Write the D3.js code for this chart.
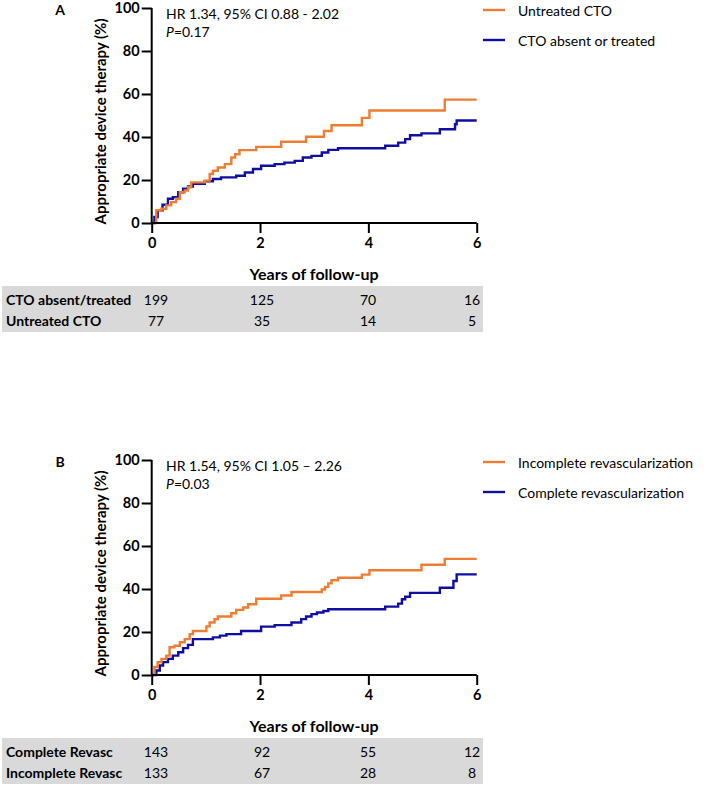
<!DOCTYPE html>
<html><head><meta charset="utf-8">
<script src="https://cdn.jsdelivr.net/npm/d3@7"></script>
<style>body{margin:0;background:#fff}svg{display:block}text{font-family:Lato,"Open Sans",sans-serif}</style>
</head><body><svg id="c" width="709" height="788"></svg>
<script>
// ---- data ----
const xTicks = [0, 2, 4, 6];
const yTicks = [0, 20, 40, 60, 80, 100];

const aUntreatedT = [0,0.085,0.18,0.27,0.36,0.45,0.52,0.61,0.67,0.73,0.98,1.07,1.13,1.22,1.35,1.47,1.54,1.62,1.93,2.39,2.85,3.18,3.32,3.88,4.02,5.41,6.0];
const aUntreatedV = [0,5.9,6.6,8.2,9.7,11.3,14.3,15.1,16.6,18.9,19.7,22.8,24.3,25.8,27.4,30.5,32,33.9,35.4,37.8,40.1,42.8,45.5,48.9,52.3,57.4,57.4];
const aTreatedT = [0,0.05,0.11,0.2,0.30,0.39,0.49,0.58,0.67,0.76,0.98,1.13,1.28,1.56,1.72,1.87,2.02,2.27,2.45,2.64,2.79,2.95,3.14,3.26,3.44,4.31,4.55,4.68,4.77,4.98,5.32,5.60,5.63,6.0];
const aTreatedV = [0,2.8,5.9,8.5,11.3,12,14.3,15.9,17,18.2,19.4,20.5,21.2,22,23.5,25.1,26.6,27.4,28.1,28.9,30.5,31.2,32.8,34,34.8,35.9,37.4,39,40.8,41.7,43.6,45.9,47.7,47.7];

const bIncompleteT = [0,0.05,0.11,0.18,0.27,0.33,0.42,0.52,0.61,0.70,0.76,1.01,1.07,1.16,1.22,1.47,1.56,1.69,1.78,1.93,2.39,2.58,3.14,3.2,3.26,3.32,3.44,3.88,4.02,4.98,5.41,6.0];
const bIncompleteV = [0,3.7,6.0,7.5,9.0,12.9,13.6,15.2,16.7,19,20.5,22.6,24.4,26,27.2,28.7,30.3,31.4,32.9,35.5,37,38.6,39.8,41,42.6,44.1,45.2,46.7,48.7,51.3,54,54];
const bCompleteT = [0,0.085,0.15,0.21,0.30,0.39,0.49,0.58,0.67,0.76,1.13,1.26,1.38,1.65,2.02,2.27,2.58,2.76,2.85,2.95,3.05,3.17,3.26,4.31,4.55,4.62,4.68,4.77,5.32,5.57,5.63,6.0];
const bCompleteV = [0,2.1,4.4,6.0,7.5,9.0,10.6,12.5,14,16.7,17.5,18.3,19,20.5,22.5,23.2,24.4,26,27.2,28.3,29.1,29.8,30.6,31.8,33.2,35.2,36.4,38.2,40.6,43.7,46.8,46.8];

const panels = [
  {letter:"A", hr:"HR 1.34, 95% CI 0.88 - 2.02", p:"=0.17",
   series:[{name:"Untreated CTO", t:aUntreatedT, v:aUntreatedV, color:"#ED7D31"},
           {name:"CTO absent or treated", t:aTreatedT, v:aTreatedV, color:"#0E0EA0"}],
   rowLabels:["CTO absent/treated","Untreated CTO"],
   rows:[[199,125,70,16],[77,35,14,5]]},
  {letter:"B", hr:"HR 1.54, 95% CI 1.05 \u2013 2.26", p:"=0.03",
   series:[{name:"Incomplete revascularization", t:bIncompleteT, v:bIncompleteV, color:"#ED7D31"},
           {name:"Complete revascularization", t:bCompleteT, v:bCompleteV, color:"#0E0EA0"}],
   rowLabels:["Complete Revasc","Incomplete Revasc"],
   rows:[[143,92,55,12],[133,67,28,8]]}
];

// ---- layout ----
const svg = d3.select("#c");
const x = d3.scaleLinear().domain([0,6]).range([151.7,476.7]);
const tops = [8, 460];
const plotH = 215;
const colX = [156, 262, 368, 472];

panels.forEach((P, i) => {
  const top = tops[i], bottom = top + plotH;
  const y = d3.scaleLinear().domain([0,100]).range([bottom, top]);
  const g = svg.append("g");

  g.append("text").attr("x",60).attr("y",top+1).attr("text-anchor","middle")
    .attr("dominant-baseline","central").attr("font-size",14).attr("font-weight","bold").text(P.letter);

  // curves
  const line = d3.line().x(d=>x(d[0])).y(d=>y(d[1])).curve(d3.curveStepAfter);
  P.series.slice().reverse().forEach(s => {
    g.append("path").datum(s.t.map((t,k)=>[t,s.v[k]]))
      .attr("d",line).attr("fill","none").attr("stroke",s.color).attr("stroke-width",2.4);
  });

  // axes
  const ya = d3.axisLeft(y).tickValues(yTicks).tickFormat(d3.format("d")).tickSize(10).tickPadding(2);
  const yg = g.append("g").attr("transform",`translate(${x(0)},0)`).call(ya);
  const xa = d3.axisBottom(x).tickValues(xTicks).tickFormat(d3.format("d")).tickSize(10).tickPadding(5);
  const xg = g.append("g").attr("transform",`translate(0,${bottom})`).call(xa);
  [yg,xg].forEach(a=>{
    a.select(".domain").attr("stroke","#000").attr("stroke-width",2).attr("d", a===yg ? `M0,${bottom}V${top}` : `M${x(0)},0H${x(6)}`);
    a.selectAll(".tick line").attr("stroke","#000").attr("stroke-width",2);
    a.selectAll(".tick text").attr("font-family","Lato").attr("font-size",14.5).attr("font-weight","bold").attr("fill","#000");
  });

  g.append("text").attr("transform",`translate(100,${(top+bottom)/2+6}) rotate(-90)`)
    .attr("text-anchor","middle").attr("dominant-baseline","central")
    .attr("font-size",15).attr("font-weight","bold").text("Appropriate device therapy (%)");
  g.append("text").attr("x",314).attr("y",bottom+50).attr("text-anchor","middle")
    .attr("dominant-baseline","central").attr("font-size",16).attr("font-weight","bold").text("Years of follow-up");

  // annotation
  g.append("text").attr("x",166).attr("y",top+5).attr("dominant-baseline","central")
    .attr("font-size",14).text(P.hr);
  const pt = g.append("text").attr("x",166).attr("y",top+23).attr("dominant-baseline","central").attr("font-size",14);
  pt.append("tspan").attr("font-style","italic").text("P");
  pt.append("tspan").text(P.p);

  // legend
  P.series.forEach((s,k)=>{
    const ly = top + 2 + k*30;
    g.append("line").attr("x1",483).attr("x2",505).attr("y1",ly).attr("y2",ly)
      .attr("stroke",s.color).attr("stroke-width",2.4);
    g.append("text").attr("x",518).attr("y",ly).attr("dominant-baseline","central")
      .attr("font-size",14).text(s.name);
  });

  // risk table
  const tTop = bottom + 63;
  g.append("rect").attr("x",2).attr("y",tTop).attr("width",481).attr("height",46).attr("fill","#d9d9d9");
  P.rowLabels.forEach((lab,r)=>{
    const ry = tTop + 13.5 + r*20.7;
    g.append("text").attr("x",6).attr("y",ry).attr("dominant-baseline","central")
      .attr("font-size",14).attr("font-weight","bold").text(lab);
    P.rows[r].forEach((n,c)=>{
      g.append("text").attr("x",colX[c]).attr("y",ry).attr("text-anchor","middle")
        .attr("dominant-baseline","central").attr("font-size",14).text(n);
    });
  });
});
</script></body></html>
